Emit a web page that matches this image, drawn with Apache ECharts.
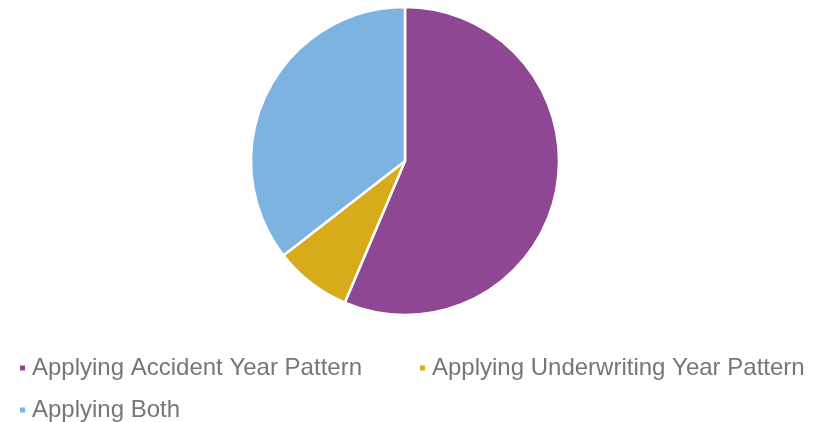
<!DOCTYPE html>
<html>
<head>
<meta charset="utf-8">
<script src="https://cdn.jsdelivr.net/npm/echarts@6/dist/echarts.min.js"></script>
<style>
  html, body { margin: 0; padding: 0; background: #fff; }
  #chart { width: 818px; height: 422px; }
</style>
</head>
<body>
<div id="chart"></div>
<script>
// slice names and shares (percent)
const categories = ["Applying Accident Year Pattern", "Applying Underwriting Year Pattern", "Applying Both"];
const shares = [56.4, 8.1, 35.5];
const colors = ["#8E4792", "#D7AB19", "#7DB3E0"];

// where each legend entry sits (left, top)
const legendSpots = [[13, 351], [413, 351], [13, 393]];

const chart = echarts.init(document.getElementById("chart"));

const legends = categories.map((name, i) => ({
    orient: "horizontal",
    left: legendSpots[i][0],
    top: legendSpots[i][1],
    icon: "rect",
    itemWidth: 7,
    itemHeight: 7,
    data: [name],
    textStyle: {
        fontFamily: "Liberation Sans, Arial",
        fontSize: 24,
        color: "#767676",
        padding: [0, 0, 0, 1]
    }
}));

chart.setOption({
    color: colors,
    animation: false,
    legend: legends,
    series: [{
        type: "pie",
        center: [405, 161],
        radius: 154,
        startAngle: 90,
        clockwise: true,
        label: { show: false },
        labelLine: { show: false },
        itemStyle: { borderColor: "#fff", borderWidth: 2.5 },
        emphasis: { disabled: true },
        data: categories.map((name, i) => ({ name: name, value: shares[i] }))
    }]
});
</script>
</body>
</html>
